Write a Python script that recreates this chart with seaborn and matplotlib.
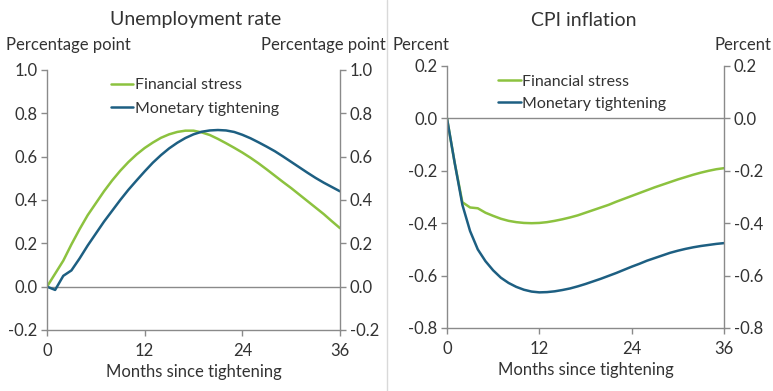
import numpy as np
import pandas as pd
import seaborn as sns
import matplotlib.pyplot as plt
from matplotlib.lines import Line2D

months = list(range(37))

unemp_financial = [0.00, 0.06, 0.12, 0.195, 0.265, 0.33, 0.385, 0.44, 0.49, 0.535,
                   0.575, 0.61, 0.64, 0.665, 0.687, 0.703, 0.714, 0.72, 0.72, 0.712,
                   0.70, 0.682, 0.662, 0.641, 0.619, 0.595, 0.569, 0.541, 0.512, 0.483,
                   0.455, 0.425, 0.395, 0.365, 0.335, 0.302, 0.27]
unemp_monetary = [0.00, -0.015, 0.05, 0.075, 0.13, 0.19, 0.245, 0.30, 0.35, 0.40,
                  0.447, 0.49, 0.532, 0.572, 0.607, 0.638, 0.664, 0.686, 0.703, 0.715,
                  0.721, 0.723, 0.721, 0.714, 0.701, 0.685, 0.666, 0.646, 0.625, 0.601,
                  0.576, 0.551, 0.526, 0.502, 0.48, 0.46, 0.44]
cpi_financial = [0.00, -0.17, -0.32, -0.34, -0.343, -0.36, -0.372, -0.383, -0.391, -0.396,
                 -0.399, -0.40, -0.399, -0.396, -0.391, -0.385, -0.378, -0.37, -0.36, -0.35,
                 -0.34, -0.33, -0.318, -0.307, -0.296, -0.285, -0.274, -0.263, -0.253, -0.243,
                 -0.233, -0.224, -0.215, -0.207, -0.20, -0.194, -0.19]
cpi_monetary = [0.00, -0.17, -0.33, -0.43, -0.50, -0.545, -0.58, -0.608, -0.628, -0.643,
                -0.654, -0.661, -0.664, -0.663, -0.66, -0.655, -0.649, -0.641, -0.632, -0.622,
                -0.612, -0.601, -0.59, -0.578, -0.566, -0.555, -0.543, -0.533, -0.523, -0.513,
                -0.505, -0.498, -0.492, -0.487, -0.483, -0.479, -0.476]

series_names = ["Financial stress", "Monetary tightening"]
colors = {"Financial stress": "#8cc23f", "Monetary tightening": "#1d5f82"}
x_ticks = [0, 12, 24, 36]
unemp_ticks = [-0.2, 0.0, 0.2, 0.4, 0.6, 0.8, 1.0]
cpi_ticks = [-0.8, -0.6, -0.4, -0.2, 0.0, 0.2]

sns.set_theme(style="white")
plt.rcParams["font.family"] = ["Lato", "DejaVu Sans"]

txt = "#333333"
grey = "#8a8a8a"
W, H = 773, 391

fig = plt.figure(figsize=(W / 100, H / 100), dpi=100)
ax1 = fig.add_axes([47 / W, 1 - 330 / H, 293 / W, 260 / H])
ax2 = fig.add_axes([447 / W, 1 - 328 / H, 277 / W, 262 / H])


def long_frame(a, b):
    return pd.DataFrame({
        "month": months * 2,
        "value": a + b,
        "series": [series_names[0]] * len(a) + [series_names[1]] * len(b),
    })


panels = [
    (ax1, long_frame(unemp_financial, unemp_monetary), unemp_ticks, "Unemployment rate",
     "Percentage point", 196, 6, 386, (0.18, 1.012), 0.58),
    (ax2, long_frame(cpi_financial, cpi_monetary), cpi_ticks, "CPI inflation",
     "Percent", 584, 393, 771, (0.145, 1.01), 0.5),
]

for ax, df, yticks, title, unit, title_x, unit_l, unit_r, leg_anchor, spacing in panels:
    sns.lineplot(data=df, x="month", y="value", hue="series", palette=colors,
                 linewidth=1.8, ax=ax, legend=False)
    ax.axhline(0, color=grey, lw=1.0, zorder=1)
    ax.set_xlim(0, 36)
    ax.set_ylim(yticks[0], yticks[-1])
    ax.set_xticks(x_ticks)
    ax.set_yticks(yticks)
    ax.set_yticklabels([f"{t:.1f}" for t in yticks])
    ax.set_xlabel("Months since tightening", fontsize=12, color=txt, labelpad=4)
    ax.set_ylabel("")
    ax.spines["top"].set_visible(False)
    for s in ("left", "right", "bottom"):
        ax.spines[s].set_color(grey)
        ax.spines[s].set_linewidth(1.0)
    ax.tick_params(axis="y", which="both", left=True, right=True, labelleft=True,
                   labelright=True, direction="out", length=4, width=1, color=grey,
                   labelsize=12, labelcolor=txt, pad=3)
    ax.tick_params(axis="x", bottom=True, direction="out", length=4, width=1,
                   color=grey, labelsize=12, labelcolor=txt, pad=5)
    fig.text(title_x / W, 1 - 20 / H, title, ha="center", va="center",
             fontsize=14, color=txt)
    fig.text(unit_l / W, 1 - 45 / H, unit, ha="left", va="center",
             fontsize=12, color=txt)
    fig.text(unit_r / W, 1 - 45 / H, unit, ha="right", va="center",
             fontsize=12, color=txt)
    handles = [Line2D([0], [0], color=colors[n], lw=1.8) for n in series_names]
    ax.legend(handles, series_names, loc="upper left",
              bbox_to_anchor=leg_anchor, frameon=False,
              fontsize=11.5, handlelength=1.4, handletextpad=0.1, labelspacing=spacing,
              borderaxespad=0.3, labelcolor=txt)

fig.add_artist(Line2D([387 / W, 387 / W], [0, 1], color="#d9d9d9", lw=1.0))

fig.savefig("out.png", dpi=100)
